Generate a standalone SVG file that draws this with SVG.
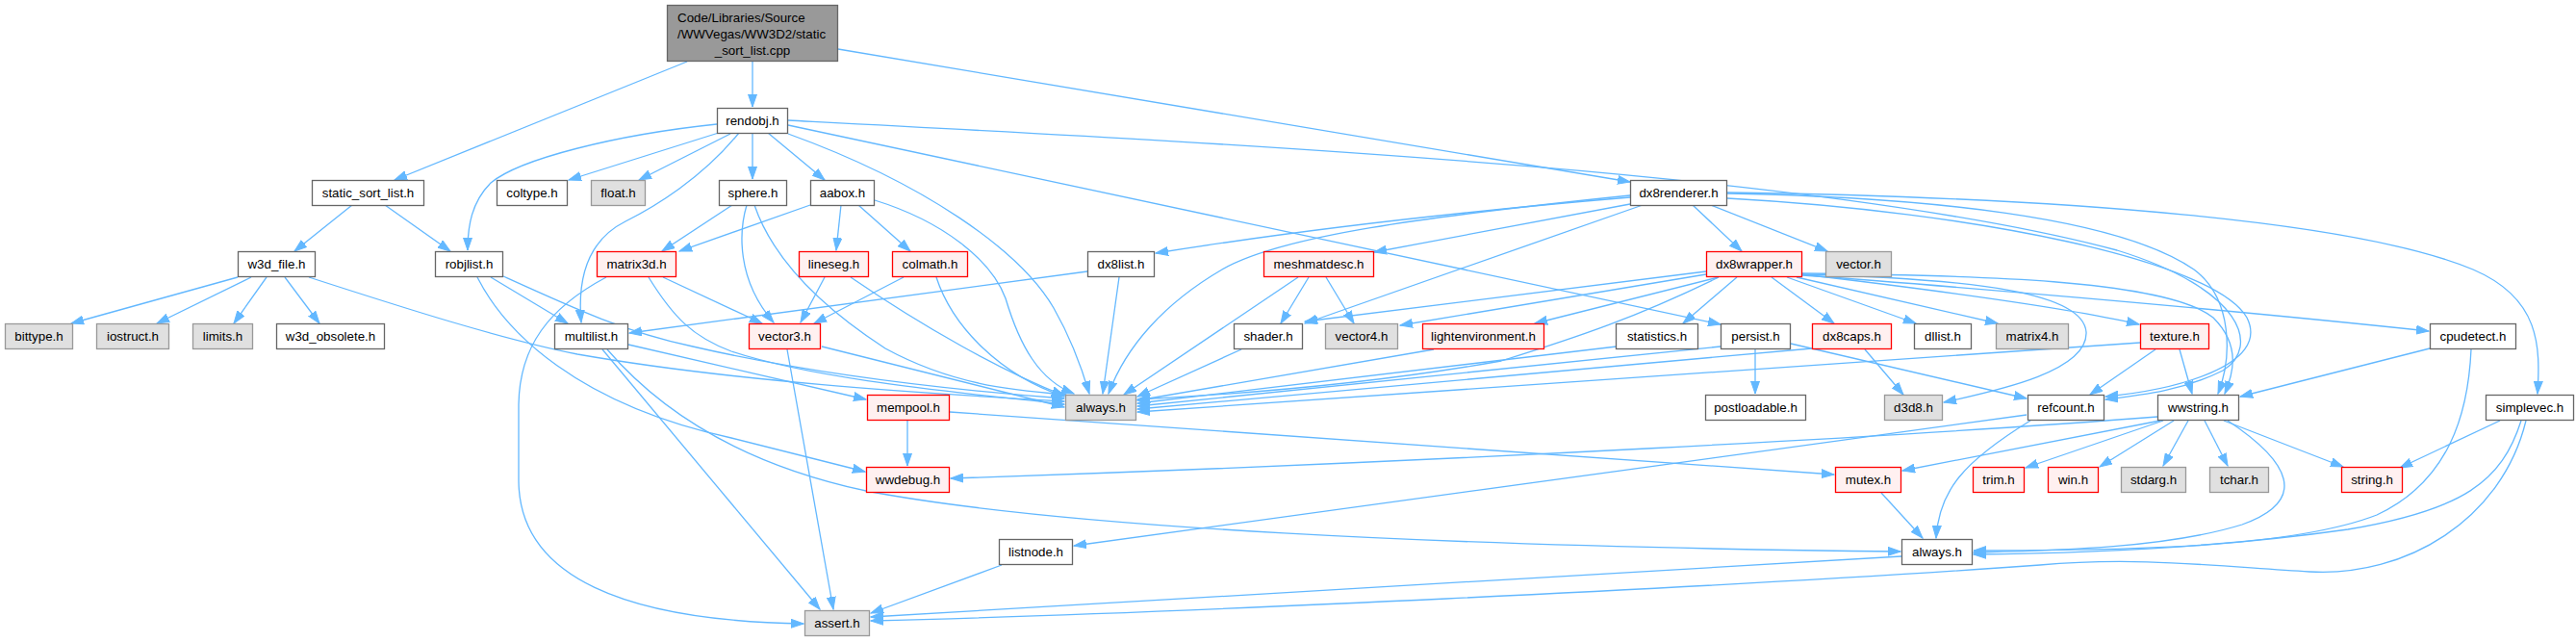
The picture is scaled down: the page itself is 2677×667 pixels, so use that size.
<svg xmlns="http://www.w3.org/2000/svg" width="2677" height="667" viewBox="0 0 2677 667">
<style>
.n rect{stroke-width:1.3}
.w rect{fill:#ffffff;stroke:#666666}
.g rect{fill:#e0e0e0;stroke:#999999}
.r rect{fill:#fff0f0;stroke:#ff0000}
.rt rect{fill:#999999;stroke:#666666}
text{font-family:"Liberation Sans",Arial,Helvetica,sans-serif;font-size:13.33px;fill:#000000;text-anchor:middle}
.e path{fill:none;stroke:#63b8ff;stroke-width:1.3;marker-end:url(#a)}
</style>
<defs>
<marker id="a" markerUnits="userSpaceOnUse" markerWidth="14" markerHeight="10" viewBox="0 0 14 10" refX="13" refY="5" orient="auto">
<path d="M0,0.5 L13,5 L0,9.5 z" fill="#63b8ff" stroke="#63b8ff" stroke-width="1"/>
</marker>
</defs>
<rect width="2677" height="667" fill="#ffffff"/>
<g id="edges" class="e">
<path d="M714,64 L410,187"/>
<path d="M782,64 L782,111"/>
<path d="M871,51 L1694,189"/>
<path d="M366,213 L306,261"/>
<path d="M400,213 L468,261"/>
<path d="M247,288 L74,336"/>
<path d="M261,288 L163,336"/>
<path d="M277,288 L243,336"/>
<path d="M296,288 L332,336"/>
<path d="M321,288 C420,320 520,352 600,368 C760,396 950,408 1106,417"/>
<path d="M510,288 L590,336"/>
<path d="M496,288 C525,345 600,420 760,455 C810,468 860,480 899,490"/>
<path d="M523,287 C600,322 650,345 720,360 C850,390 1000,406 1106,414"/>
<path d="M750,137 L591,187"/>
<path d="M759,139 L664,187"/>
<path d="M745,129 C640,140 540,165 510,190 C490,210 486,235 486,260"/>
<path d="M768,138 C730,185 680,215 650,230 C610,250 600,290 604,335"/>
<path d="M782,138 L782,186"/>
<path d="M798,138 L857,187"/>
<path d="M819,139 C960,190 1060,260 1095,320 C1115,355 1125,385 1132,409"/>
<path d="M819,130 L1788,337"/>
<path d="M819,125 C1300,150 1900,180 2200,260 C2330,300 2350,360 2310,385 C2270,405 2230,410 2188,415"/>
<path d="M1694,205 Q1420,228 1201,263"/>
<path d="M1694,212 L1428,262"/>
<path d="M1707,213 L1356,336"/>
<path d="M1694,203 C1480,225 1330,245 1270,280 C1210,315 1170,360 1152,409"/>
<path d="M1759,213 L1810,261"/>
<path d="M1778,213 L1899,261"/>
<path d="M1795,200 C2150,205 2450,230 2570,280 C2640,310 2640,360 2637,409"/>
<path d="M1795,201 C2000,205 2200,225 2280,280 C2320,310 2320,370 2305,409"/>
<path d="M1795,206 C2050,220 2300,270 2335,330 C2360,380 2260,405 2188,412"/>
<path d="M1773,282 L1356,334"/>
<path d="M1773,285 L1455,338"/>
<path d="M1786,288 L1595,336"/>
<path d="M1786,288 C1700,330 1640,350 1560,375 C1420,400 1280,410 1182,415"/>
<path d="M1805,288 L1749,336"/>
<path d="M1841,288 L1906,336"/>
<path d="M1857,288 L1991,336"/>
<path d="M1867,288 L2076,336"/>
<path d="M1873,285 C2000,300 2150,320 2223,337"/>
<path d="M1873,286 C2000,295 2300,320 2524,344"/>
<path d="M1873,285 C2060,290 2165,305 2168,345 C2170,385 2080,405 2020,418"/>
<path d="M1873,284 C2050,286 2250,290 2300,330 C2330,360 2320,390 2312,409"/>
<path d="M1360,288 L1331,336"/>
<path d="M1378,288 L1407,336"/>
<path d="M1349,288 L1168,410"/>
<path d="M1163,288 L1146,409"/>
<path d="M1130,282 L654,346"/>
<path d="M1290,363 L1182,412"/>
<path d="M1490,363 L1182,416"/>
<path d="M1680,360 L1182,419"/>
<path d="M1788,360 L1182,422"/>
<path d="M1883,362 L1182,425"/>
<path d="M2224,356 L1182,428"/>
<path d="M1824,363 L1824,409"/>
<path d="M1861,357 L2106,414"/>
<path d="M1938,363 L1978,410"/>
<path d="M2240,363 L2172,410"/>
<path d="M2265,363 L2278,409"/>
<path d="M2525,362 L2328,412"/>
<path d="M2568,363 C2565,430 2545,500 2470,535 C2380,570 2200,572 2051,572"/>
<path d="M2598,437 L2494,486"/>
<path d="M2620,437 C2600,500 2560,530 2440,550 C2300,570 2150,575 2051,576"/>
<path d="M2625,437 C2600,540 2500,600 2400,594 C2300,588 2220,578 2120,587 C1800,610 1200,638 905,645"/>
<path d="M2245,437 L1977,489"/>
<path d="M2248,437 L2105,486"/>
<path d="M2259,437 L2182,485"/>
<path d="M2274,437 L2248,484"/>
<path d="M2291,437 L2315,484"/>
<path d="M2311,437 L2435,485"/>
<path d="M2315,437 C2380,480 2400,520 2330,545 C2250,570 2130,572 2051,574"/>
<path d="M2242,433 C2000,452 1500,480 988,497"/>
<path d="M2106,431 L1116,567"/>
<path d="M2110,437 C2040,480 2015,510 2012,559"/>
<path d="M943,437 L943,484"/>
<path d="M987,428 L1906,493"/>
<path d="M1955,512 L1998,559"/>
<path d="M1041,587 L905,637"/>
<path d="M1976,578 L905,641"/>
<path d="M631,363 C680,420 760,480 900,510 C1100,548 1500,568 1975,573"/>
<path d="M626,363 L852,633"/>
<path d="M653,358 L900,415"/>
<path d="M689,288 L792,336"/>
<path d="M674,288 C700,330 720,350 760,365 C850,395 1000,408 1106,420"/>
<path d="M630,288 C570,320 540,360 539,420 L539,500 C540,600 650,645 835,648"/>
<path d="M854,360 L1106,423"/>
<path d="M818,363 L866,633"/>
<path d="M761,213 L688,261"/>
<path d="M776,213 C768,240 765,290 804,335"/>
<path d="M784,213 C800,260 840,310 920,362 C990,400 1050,405 1108,410"/>
<path d="M842,213 L706,261"/>
<path d="M874,213 L869,260"/>
<path d="M892,213 L946,261"/>
<path d="M909,208 C980,230 1030,270 1045,310 C1060,360 1080,395 1116,409"/>
<path d="M857,288 L832,335"/>
<path d="M884,288 C960,340 1040,385 1106,411"/>
<path d="M939,288 L846,336"/>
<path d="M973,288 C990,340 1040,390 1106,412"/>
</g>
<g id="root" class="n rt"><rect x="693.5" y="5.5" width="177" height="58"/><text x="704" y="23" style="text-anchor:start">Code/Libraries/Source</text><text x="704" y="40" style="text-anchor:start">/WWVegas/WW3D2/static</text><text x="782" y="57">_sort_list.cpp</text></g>
<g id="rendobj" class="n w"><rect x="745.5" y="112.5" width="73" height="26"/><text x="782" y="130">rendobj.h</text></g>
<g id="static_sort_list" class="n w"><rect x="324.5" y="187.5" width="116" height="26"/><text x="382.5" y="205">static_sort_list.h</text></g>
<g id="coltype" class="n w"><rect x="516.5" y="187.5" width="73" height="26"/><text x="553" y="205">coltype.h</text></g>
<g id="float" class="n g"><rect x="614.5" y="187.5" width="56" height="26"/><text x="642.5" y="205">float.h</text></g>
<g id="sphere" class="n w"><rect x="747.5" y="187.5" width="70" height="26"/><text x="782.5" y="205">sphere.h</text></g>
<g id="aabox" class="n w"><rect x="842.5" y="187.5" width="66" height="26"/><text x="875.5" y="205">aabox.h</text></g>
<g id="dx8renderer" class="n w"><rect x="1694.5" y="187.5" width="100" height="26"/><text x="1744.5" y="205">dx8renderer.h</text></g>
<g id="w3d_file" class="n w"><rect x="247.5" y="261.5" width="80" height="26"/><text x="287.5" y="279">w3d_file.h</text></g>
<g id="robjlist" class="n w"><rect x="452.5" y="261.5" width="70" height="26"/><text x="487.5" y="279">robjlist.h</text></g>
<g id="matrix3d" class="n r"><rect x="620.5" y="261.5" width="82" height="26"/><text x="661.5" y="279">matrix3d.h</text></g>
<g id="lineseg" class="n r"><rect x="830.5" y="261.5" width="72" height="26"/><text x="866.5" y="279">lineseg.h</text></g>
<g id="colmath" class="n r"><rect x="927.5" y="261.5" width="78" height="26"/><text x="966.5" y="279">colmath.h</text></g>
<g id="dx8list" class="n w"><rect x="1130.5" y="261.5" width="69" height="26"/><text x="1165" y="279">dx8list.h</text></g>
<g id="meshmatdesc" class="n r"><rect x="1313.5" y="261.5" width="114" height="26"/><text x="1370.5" y="279">meshmatdesc.h</text></g>
<g id="dx8wrapper" class="n r"><rect x="1773.5" y="261.5" width="99" height="26"/><text x="1823" y="279">dx8wrapper.h</text></g>
<g id="vector" class="n g"><rect x="1897.5" y="261.5" width="68" height="26"/><text x="1931.5" y="279">vector.h</text></g>
<g id="bittype" class="n g"><rect x="5.5" y="336.5" width="70" height="26"/><text x="40.5" y="354">bittype.h</text></g>
<g id="iostruct" class="n g"><rect x="100.5" y="336.5" width="75" height="26"/><text x="138" y="354">iostruct.h</text></g>
<g id="limits" class="n g"><rect x="200.5" y="336.5" width="62" height="26"/><text x="231.5" y="354">limits.h</text></g>
<g id="w3d_obsolete" class="n w"><rect x="287.5" y="336.5" width="112" height="26"/><text x="343.5" y="354">w3d_obsolete.h</text></g>
<g id="multilist" class="n w"><rect x="576.5" y="336.5" width="76" height="26"/><text x="614.5" y="354">multilist.h</text></g>
<g id="vector3" class="n r"><rect x="778.5" y="336.5" width="74" height="26"/><text x="815.5" y="354">vector3.h</text></g>
<g id="shader" class="n w"><rect x="1282.5" y="336.5" width="71" height="26"/><text x="1318" y="354">shader.h</text></g>
<g id="vector4" class="n g"><rect x="1377.5" y="336.5" width="75" height="26"/><text x="1415" y="354">vector4.h</text></g>
<g id="lightenvironment" class="n r"><rect x="1478.5" y="336.5" width="126" height="26"/><text x="1541.5" y="354">lightenvironment.h</text></g>
<g id="statistics" class="n w"><rect x="1679.5" y="336.5" width="85" height="26"/><text x="1722" y="354">statistics.h</text></g>
<g id="persist" class="n w"><rect x="1788.5" y="336.5" width="72" height="26"/><text x="1824.5" y="354">persist.h</text></g>
<g id="dx8caps" class="n r"><rect x="1883.5" y="336.5" width="82" height="26"/><text x="1924.5" y="354">dx8caps.h</text></g>
<g id="dllist" class="n w"><rect x="1989.5" y="336.5" width="59" height="26"/><text x="2019" y="354">dllist.h</text></g>
<g id="matrix4" class="n g"><rect x="2074.5" y="336.5" width="75" height="26"/><text x="2112" y="354">matrix4.h</text></g>
<g id="texture" class="n r"><rect x="2224.5" y="336.5" width="71" height="26"/><text x="2260" y="354">texture.h</text></g>
<g id="cpudetect" class="n w"><rect x="2525.5" y="336.5" width="89" height="26"/><text x="2570" y="354">cpudetect.h</text></g>
<g id="mempool" class="n r"><rect x="901.5" y="410.5" width="85" height="26"/><text x="944" y="428">mempool.h</text></g>
<g id="always_gray" class="n g"><rect x="1107.5" y="410.5" width="73" height="26"/><text x="1144" y="428">always.h</text></g>
<g id="postloadable" class="n w"><rect x="1772.5" y="410.5" width="104" height="26"/><text x="1824.5" y="428">postloadable.h</text></g>
<g id="d3d8" class="n g"><rect x="1958.5" y="410.5" width="60" height="26"/><text x="1988.5" y="428">d3d8.h</text></g>
<g id="refcount" class="n w"><rect x="2107.5" y="410.5" width="79" height="26"/><text x="2147" y="428">refcount.h</text></g>
<g id="wwstring" class="n w"><rect x="2242.5" y="410.5" width="84" height="26"/><text x="2284.5" y="428">wwstring.h</text></g>
<g id="simplevec" class="n w"><rect x="2583.5" y="410.5" width="91" height="26"/><text x="2629" y="428">simplevec.h</text></g>
<g id="wwdebug" class="n r"><rect x="900.5" y="485.5" width="86" height="26"/><text x="943.5" y="503">wwdebug.h</text></g>
<g id="mutex" class="n r"><rect x="1907.5" y="485.5" width="68" height="26"/><text x="1941.5" y="503">mutex.h</text></g>
<g id="trim" class="n r"><rect x="2050.5" y="485.5" width="53" height="26"/><text x="2077" y="503">trim.h</text></g>
<g id="win" class="n r"><rect x="2128.5" y="485.5" width="52" height="26"/><text x="2154.5" y="503">win.h</text></g>
<g id="stdarg" class="n g"><rect x="2204.5" y="485.5" width="67" height="26"/><text x="2238" y="503">stdarg.h</text></g>
<g id="tchar" class="n g"><rect x="2296.5" y="485.5" width="61" height="26"/><text x="2327" y="503">tchar.h</text></g>
<g id="string" class="n r"><rect x="2433.5" y="485.5" width="63" height="26"/><text x="2465" y="503">string.h</text></g>
<g id="listnode" class="n w"><rect x="1038.5" y="560.5" width="76" height="26"/><text x="1076.5" y="578">listnode.h</text></g>
<g id="always_white" class="n w"><rect x="1976.5" y="560.5" width="73" height="26"/><text x="2013" y="578">always.h</text></g>
<g id="assert" class="n g"><rect x="836.5" y="634.5" width="67" height="26"/><text x="870" y="652">assert.h</text></g>
</svg>
